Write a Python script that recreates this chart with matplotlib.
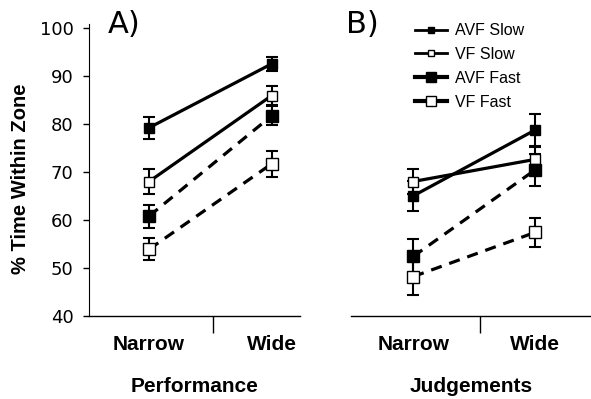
import numpy as np
import matplotlib.pyplot as plt
from matplotlib.lines import Line2D

conditions = ['Narrow', 'Wide']
series = ['AVF Slow', 'VF Slow', 'AVF Fast', 'VF Fast']

# Performance panel (A)
perf_mean = {
    'AVF Slow': [79.2, 92.5],
    'VF Slow': [68.0, 85.9],
    'AVF Fast': [60.8, 81.7],
    'VF Fast': [53.9, 71.7],
}
perf_err = {
    'AVF Slow': [2.3, 1.4],
    'VF Slow': [2.6, 1.9],
    'AVF Fast': [2.4, 2.0],
    'VF Fast': [2.3, 2.7],
}

# Judgements panel (B)
judg_mean = {
    'AVF Slow': [65.0, 78.7],
    'VF Slow': [68.0, 72.6],
    'AVF Fast': [52.4, 70.4],
    'VF Fast': [48.2, 57.4],
}
judg_err = {
    'AVF Slow': [3.1, 3.4],
    'VF Slow': [2.5, 2.5],
    'AVF Fast': [3.6, 3.3],
    'VF Fast': [3.8, 3.0],
}

styles = {
    'AVF Slow': dict(ls='-', mfc='black', ms=7),
    'VF Slow': dict(ls='-', mfc='white', ms=7),
    'AVF Fast': dict(ls=(0, (3.5, 2.5)), mfc='black', ms=8.5),
    'VF Fast': dict(ls=(0, (3.5, 2.5)), mfc='white', ms=8.5),
}

lab_font = dict(family='Liberation Sans', weight='bold')

fig = plt.figure(figsize=(5.91, 3.99), dpi=100)
ax1 = fig.add_axes([0.1506, 0.208, 0.357, 0.732])
ax2 = fig.add_axes([0.594, 0.208, 0.406, 0.732])

x = np.array([1, 2])


def draw(ax, means, errs):
    for s in series:
        st = styles[s]
        ax.errorbar(x, means[s], yerr=errs[s], fmt='none', ecolor='black',
                    elinewidth=1.5, capsize=4, capthick=1.5, zorder=2)
        ax.plot(x, means[s], color='black', lw=2.3, ls=st['ls'],
                marker='s', mfc=st['mfc'], mec='black', mew=1.0,
                ms=st['ms'], zorder=3)


draw(ax1, perf_mean, perf_err)
draw(ax2, judg_mean, judg_err)

for ax, tick, xl in [(ax1, 1.52, 'Performance'), (ax2, 1.55, 'Judgements')]:
    ax.set_ylim(40, 100.8)
    ax.spines['top'].set_visible(False)
    ax.spines['right'].set_visible(False)
    ax.spines['bottom'].set_linewidth(1.0)
    ax.set_xticks([tick])
    ax.set_xticklabels([''])
    ax.tick_params(axis='x', which='major', length=12, width=1.0, direction='out')
    ax.set_xticks(x, minor=True)
    ax.set_xticklabels(conditions, minor=True, fontsize=15, **lab_font)
    ax.tick_params(axis='x', which='minor', length=0, pad=14)
    ax.set_xlabel(xl, fontsize=15, labelpad=16, **lab_font)

ax1.set_xlim(0.51, 2.23)
ax2.set_xlim(0.49, 2.46)

ax1.set_yticks([40, 50, 60, 70, 80, 90, 100])
ax1.tick_params(axis='y', length=4, width=1.0, labelsize=13, pad=7)
for t in ax1.get_yticklabels():
    t.set_family('DejaVu Sans')
ax1.set_ylabel('% Time Within Zone', fontsize=14.5, labelpad=7, y=0.47,
               **lab_font)

ax2.spines['left'].set_visible(False)
ax2.set_yticks([])

ax1.text(0.09, 1.048, 'A)', transform=ax1.transAxes, fontsize=22,
         family='DejaVu Sans', va='top')
ax2.text(-0.02, 1.048, 'B)', transform=ax2.transAxes, fontsize=22,
         family='DejaVu Sans', va='top')

handles = []
for s in series:
    st = styles[s]
    ms = 5 if 'Slow' in s else 7.5
    lw = 2.0 if 'Slow' in s else 3.0
    handles.append(Line2D([], [], color='black', lw=lw, ls='-', marker='s',
                          mfc=st['mfc'], mec='black', ms=ms))
fig.legend(handles, series, loc='upper left', bbox_to_anchor=(0.678, 0.978),
           frameon=False, handlelength=2.0, handletextpad=0.5,
           labelspacing=0.55, prop=dict(family='Liberation Sans', size=11.5))

fig.savefig('out.png', dpi=100)
